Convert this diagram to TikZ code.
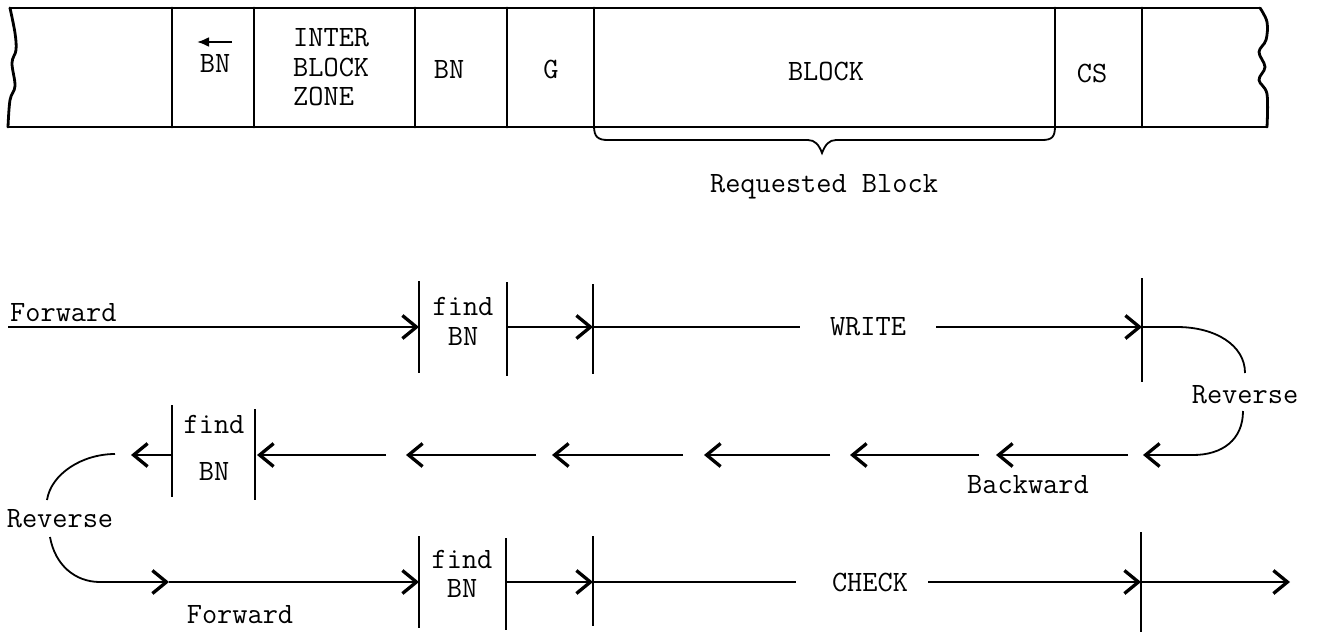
\documentclass[tikz,border=0pt]{standalone}
\usepackage{fontspec}
\setmonofont{Latin Modern Mono}
\usetikzlibrary{arrows.meta}
\begin{document}
\begin{tikzpicture}[x=1pt,y=-1pt,
  tape/.style={line width=2.8pt,line join=round,line cap=round},
  wire/.style={line width=1.8pt},
  bar/.style={line width=1.9pt},
  hd/.style={-{Straight Barb[length=14pt,width=23pt,line width=3.3pt]}},
  lbl/.style={font=\ttfamily\fontsize{29.5}{34}\selectfont,inner sep=0pt},
]
\useasboundingbox (0,0) rectangle (1321,634);
\fill[white] (0,0) rectangle (1321,634);

% ---------- tape ----------
\coordinate (tl) at (10,8);   \coordinate (tr) at (1260,8);
\coordinate (bl) at (8,127);  \coordinate (br) at (1267,127);
\draw[tape] (tl) -- (tr);
\draw[tape] (bl) -- (br);
\draw[tape] plot[smooth,tension=0.6] coordinates {(10,8) (15,33) (16,50) (12,63) (15,86) (10,100) (8,127)};
\draw[tape] plot[smooth,tension=0.6] coordinates {(1260,8) (1267,22) (1266,40) (1259,52) (1265,67) (1259,80) (1267,94) (1267,127)};
\foreach \x/\n in {172/d1,254/d2,415/d3,507/d4,594/d5,1055/d6,1142/d7}{
  \coordinate (\n t) at (\x,8); \coordinate (\n b) at (\x,127);
  \draw[tape] (\n t) -- (\n b);
}
\coordinate (ta) at (232,42); \coordinate (tb) at (197,42);
\draw[line width=2.2pt,-{Latex[length=12pt,width=10pt]}] (ta) -- (tb);
\node[lbl,anchor=base] (bnA) at (215,73) {BN};
\node[lbl,anchor=base west] (ib1) at (293,47) {INTER};
\node[lbl,anchor=base west] (ib2) at (293,77) {BLOCK};
\node[lbl,anchor=base west] (ib3) at (293,105) {ZONE};
\node[lbl,anchor=base] (bnB) at (449,78) {BN};
\node[lbl,anchor=base] (gg) at (551,78) {G};
\node[lbl,anchor=base] (blk) at (826,80) {BLOCK};
\node[lbl,anchor=base] (cs) at (1092,82) {CS};

% brace
\coordinate (b1) at (594,126); \coordinate (b2) at (1055,126);
\coordinate (btip) at (822,153);
\draw[line width=1.8pt] (b1) .. controls (594,137) and (598,140) .. (608,140) -- (808,140)
   .. controls (815,140) and (819,145) .. (btip)
   .. controls (825,145) and (829,140) .. (836,140) -- (1042,140)
   .. controls (1052,140) and (1055,137) .. (b2);
\node[lbl,anchor=base] (req) at (824,192) {Requested Block};

% ---------- row 1 (WRITE) ----------
\coordinate (r1s) at (8,327);
\foreach \x/\n/\a/\b in {419/p1/281/373,507/p2/282/376,593/p3/284/374,1142/p4/278/382}{
  \coordinate (\n) at (\x,327); \coordinate (\n t) at (\x,\a); \coordinate (\n b) at (\x,\b);
  \draw[bar] (\n t) -- (\n b);
}
\node[lbl,anchor=base west] (fw1) at (10,321) {Forward};
\draw[wire,hd] (r1s) -- (p1);
\node[lbl,anchor=base] (f1a) at (463,315) {find};
\node[lbl,anchor=base] (f1b) at (463,345) {BN};
\draw[wire,hd] (p2) -- (p3);
\node[lbl] (wr) at (868,327) {WRITE};
\coordinate (w1) at (800,327); \coordinate (w2) at (936,327);
\draw[wire] (p3) -- (w1);
\draw[wire,hd] (w2) -- (p4);
\coordinate (c1) at (1177,327); \coordinate (c2) at (1245,373);
\draw[wire] (p4) -- (c1) .. controls (1215,327) and (1245,345) .. (c2);
\node[lbl,anchor=base] (revR) at (1245,403) {Reverse};

% ---------- row 2 (backward) ----------
\coordinate (c3) at (1243,411); \coordinate (c4) at (1193,455);
\coordinate (h0) at (1143,455);
\draw[wire] (c3) .. controls (1243,440) and (1222,455) .. (c4);
\draw[wire,hd] (c4) -- (h0);
\foreach \s/\e/\n in {1128/996/s1,979/850/s2,830/704/s3,683/552/s4,536/406/s5,386/257/s6}{
  \coordinate (\n a) at (\s,455); \coordinate (\n b) at (\e,455);
  \draw[wire,hd] (\n a) -- (\n b);
}
\node[lbl,anchor=base] (bw) at (1028,493) {Backward};
\coordinate (q1) at (172,455); \coordinate (q2) at (255,455);
\coordinate (q1t) at (172,405); \coordinate (q1b) at (172,497);
\coordinate (q2t) at (255,409); \coordinate (q2b) at (255,500);
\draw[bar] (q1t) -- (q1b);
\draw[bar] (q2t) -- (q2b);
\node[lbl,anchor=base] (f2a) at (214,433) {find};
\node[lbl,anchor=base] (f2b) at (214,480) {BN};
\coordinate (q0) at (131,455);
\draw[wire,hd] (q1) -- (q0);
\coordinate (c5) at (115,454); \coordinate (c6) at (47,500);
\draw[wire] (c5) .. controls (82,454) and (51,474) .. (c6);
\node[lbl,anchor=base] (revL) at (60,527) {Reverse};

% ---------- row 3 (CHECK) ----------
\coordinate (c7) at (50,537); \coordinate (c8) at (100,582);
\coordinate (m3) at (169,582);
\foreach \x/\n/\a/\b in {419/k1/536/628,506/k2/538/630,593/k3/536/626,1141/k4/532/632}{
  \coordinate (\n) at (\x,582); \coordinate (\n t) at (\x,\a); \coordinate (\n b) at (\x,\b);
  \draw[bar] (\n t) -- (\n b);
}
\draw[wire] (c7) .. controls (55,565) and (75,582) .. (c8);
\draw[wire,hd] (c8) -- (m3);
\draw[wire,hd] (m3) -- (k1);
\node[lbl,anchor=base] (f3a) at (462,568) {find};
\node[lbl,anchor=base] (f3b) at (462,597) {BN};
\node[lbl,anchor=base] (fw3) at (240,623) {Forward};
\draw[wire,hd] (k2) -- (k3);
\node[lbl] (ck) at (870,582) {CHECK};
\coordinate (x1) at (796,582); \coordinate (x2) at (928,582);
\draw[wire] (k3) -- (x1);
\draw[wire,hd] (x2) -- (k4);
\coordinate (x3) at (1290,582);
\draw[wire,hd] (k4) -- (x3);
\end{tikzpicture}
\end{document}
